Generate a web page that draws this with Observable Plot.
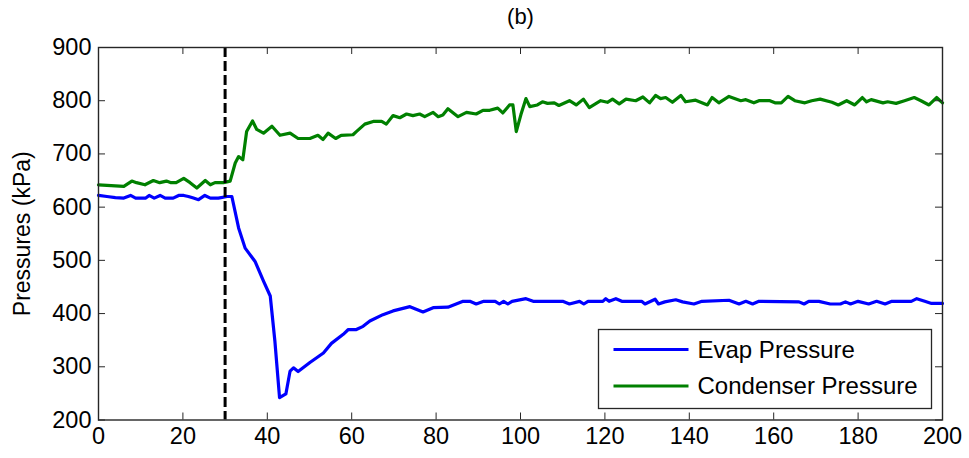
<!DOCTYPE html>
<html><head><meta charset="utf-8">
<script src="https://cdn.jsdelivr.net/npm/d3@7"></script>
<script src="https://cdn.jsdelivr.net/npm/@observablehq/plot@0.6"></script>
<style>body{margin:0;background:#fff} svg{display:block}</style>
</head><body><div id="chart"></div>
<script>
const evapT = [0,2,4,6,7.6,8.8,11.2,12,13.2,14.6,15.8,17.7,19,20.2,21.3,22.5,23.7,25.2,26.5,28.4,30.5,31.6,33.2,34.75,37.1,39.1,40.7,41.8,42.9,44.4,45.4,46.2,47.3,50.1,53.3,55.2,58,59.2,61.1,62.7,64.3,67.4,69.8,73.8,76.9,79.3,82.8,86.4,88,89.5,91.3,94,95,96,97,98,101.3,103,110,111.6,114,115,116,119.5,120.2,121,122.6,124,128.7,129.5,131.9,132.7,134.2,136.8,138.4,141.1,143,149.4,151.8,153.4,155,156.5,166,167.2,168.3,170.7,173.4,175.8,177,178.2,180,182.5,184.4,186.4,188,192.6,193.9,195.8,197.4,200];
const evapP = [622,620,618,617,622,617,617,622,617,622,617,617,622,622,620,617,614,622,617,617,620,620,561,523,498,461,433,348,242,249,292,298,291,308,326,344,361,370,370,376,386,398,405,413,403,411,412,423,423,418,423,423,418,423,418,423,428,423,423,418,423,418,423,423,428,423,428,423,423,418,427,418,422,426,422,418,423,425,418,423,418,423,422,418,423,423,418,418,422,418,423,418,423,418,423,423,428,423,419,419];
const condT = [0,6,7.9,9,11,13,14.5,16.1,17.2,18.4,20.2,21.7,23.3,25.3,26.5,27.6,29.6,31.2,32.4,33.2,34.2,35.1,36.5,37.5,39.1,41.1,43,45.4,47.3,50.1,52,53.2,54.4,56.2,57.5,60.3,61.1,63.1,65.1,67.1,68.2,69.8,71.4,73,74.5,76.1,77.3,79.3,80.5,81.6,82.8,85.2,87.2,89.5,91.1,92.7,94.6,95.8,97.4,98.2,99,100.1,101.3,102.2,104,105.2,106.4,108,109.1,111.6,113.2,114.9,116.3,119,120.6,121.8,123.4,125,127.3,129,130.6,132,133.2,134.4,136,138,139.1,141.5,144.3,145.4,147,149.4,152.2,153.4,155.3,156.5,159.1,160.3,161.8,163.4,165,167.4,169,171,173.8,175.3,177.3,179.2,181,182,183.1,185.9,187,189,191,193.3,194.9,196.8,198.6,200];
const condP = [642,639,649,646,642,650,646,649,646,646,654,646,636,650,642,646,646,649,683,695,689,742,762,746,739,752,735,739,729,729,735,727,739,729,735,736,742,756,761,761,756,772,768,775,772,775,770,778,770,773,785,770,778,775,782,782,786,777,792,792,742,774,804,789,792,798,795,796,791,800,792,803,787,800,797,803,794,803,800,807,796,810,804,806,797,810,798,801,792,806,796,808,800,802,796,800,800,796,796,808,800,796,800,803,797,792,800,792,806,798,802,796,798,795,800,806,800,792,806,796];
const xTicks = [0,20,40,60,80,100,120,140,160,180,200];
const yTicks = [200,300,400,500,600,700,800,900];
const seriesNames = ["Evap Pressure","Condenser Pressure"];
const seriesColors = ["#0000ff","#008000"];
const eventTime = [30];
const titleText = "(b)";
const yLabel = "Pressures (kPa)";

const W = 969, H = 458, mL = 98, mR = 27, mT = 47, mB = 38.5;
const plotH = H - mT - mB, plotW = W - mL - mR, tk = 7;
const font = "'Liberation Sans', Arial, Helvetica, sans-serif";

const evap = evapT.map((t, i) => ({t, p: evapP[i]}));
const cond = condT.map((t, i) => ({t, p: condP[i]}));

const chart = Plot.plot({
  width: W, height: H,
  marginLeft: mL, marginRight: mR, marginTop: mT, marginBottom: mB,
  style: {fontFamily: font, fontSize: "23px", background: "#fff", color: "#000", overflow: "visible"},
  x: {domain: [0, 200]},
  y: {domain: [200, 900]},
  marks: [
    Plot.line(evap, {x: "t", y: "p", stroke: seriesColors[0], strokeWidth: 3.2, strokeLinejoin: "round"}),
    Plot.line(cond, {x: "t", y: "p", stroke: seriesColors[1], strokeWidth: 3.2, strokeLinejoin: "round"}),
    Plot.ruleX(eventTime, {stroke: "#000", strokeWidth: 3, strokeDasharray: "10,4"}),
    Plot.tickX(xTicks, {x: d => d, insetTop: plotH - tk, stroke: "#262626", strokeWidth: 1}),
    Plot.tickX(xTicks, {x: d => d, insetBottom: plotH - tk, stroke: "#262626", strokeWidth: 1}),
    Plot.tickY(yTicks, {y: d => d, insetRight: plotW - tk, stroke: "#262626", strokeWidth: 1}),
    Plot.tickY(yTicks, {y: d => d, insetLeft: plotW - tk, stroke: "#262626", strokeWidth: 1}),
    Plot.frame({stroke: "#262626", strokeWidth: 1.4}),
    Plot.axisX(xTicks, {tickSize: 0, tickPadding: 7, label: null, fontSize: 23.5, fill: "#000"}),
    Plot.axisY(yTicks, {tickSize: 0, tickPadding: 7, label: null, fontSize: 23.5, fill: "#000"}),
    Plot.text([titleText], {frameAnchor: "top", text: d => d, dy: -24, lineAnchor: "bottom", fontSize: 22, fill: "#000"}),
    Plot.text([yLabel], {frameAnchor: "left", text: d => d, rotate: -90, dx: -76, textAnchor: "middle", lineAnchor: "middle", fontSize: 23, fill: "#000"})
  ]
});

// Legend box (inside the axes, lower right)
const svg = d3.select(chart);
const lg = svg.append("g").attr("font-family", font).attr("font-size", 24).attr("text-anchor", "start");
const lx = 598.5, ly = 329.5, lw = 333, lh = 79;
lg.append("rect").attr("x", lx).attr("y", ly).attr("width", lw).attr("height", lh)
  .attr("fill", "#fff").attr("stroke", "#262626").attr("stroke-width", 1.3);
seriesNames.forEach((name, i) => {
  const yy = ly + 20 + i * 36.5;
  lg.append("line").attr("x1", lx + 15).attr("x2", lx + 90).attr("y1", yy).attr("y2", yy)
    .attr("stroke", seriesColors[i]).attr("stroke-width", 3.2);
  lg.append("text").attr("x", lx + 99).attr("y", yy).attr("dy", "0.35em")
    .attr("text-anchor", "start").attr("fill", "#000").text(name);
});

document.getElementById("chart").appendChild(chart);
</script>
</body></html>
